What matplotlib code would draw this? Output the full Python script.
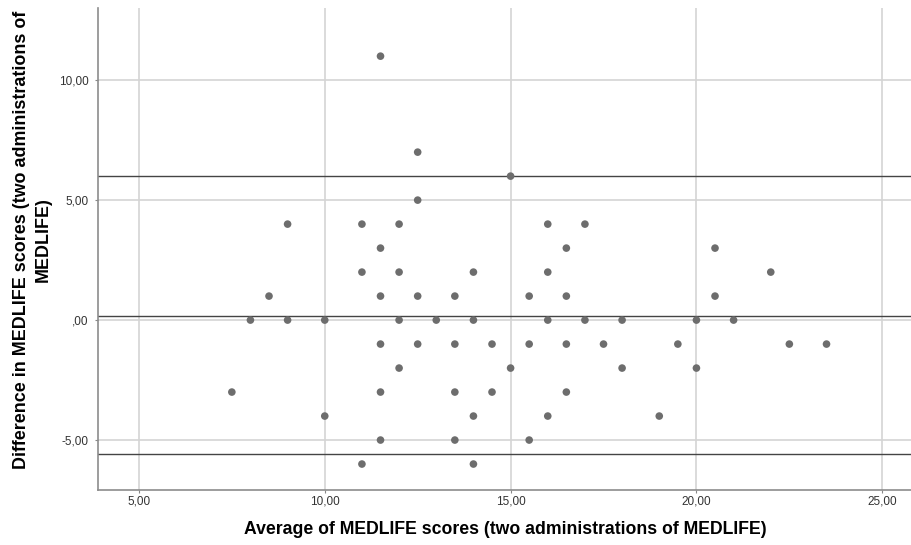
import matplotlib
matplotlib.use("Agg")
import matplotlib.pyplot as plt

# Bland-Altman: average vs difference of two MEDLIFE administrations
avg = [7.5, 8, 8.5, 9, 9, 10, 10, 11, 11, 11,
       11.5, 11.5, 11.5, 11.5, 11.5, 11.5, 12, 12, 12, 12,
       12.5, 12.5, 12.5, 12.5, 13, 13.5, 13.5, 13.5, 13.5, 14,
       14, 14, 14, 14.5, 14.5, 15, 15, 15.5, 15.5, 15.5,
       16, 16, 16, 16, 16.5, 16.5, 16.5, 16.5, 17, 17,
       17.5, 18, 18, 19, 19.5, 20, 20, 20.5, 20.5, 21,
       22, 22.5, 23.5]
diff = [-3, 0, 1, 4, 0, 0, -4, 4, 2, -6,
        11, 3, 1, -1, -3, -5, 4, 2, 0, -2,
        7, 5, 1, -1, 0, 1, -1, -3, -5, 2,
        0, -4, -6, -1, -3, 6, -2, 1, -1, -5,
        4, 2, 0, -4, 3, 1, -1, -3, 4, 0,
        -1, 0, -2, -4, -1, 0, -2, 3, 1, 0,
        2, -1, -1]

mean_diff = 0.17
upper_loa = 6.0
lower_loa = -5.58

xticks = [5, 10, 15, 20, 25]
yticks = [-5, 0, 5, 10]


def fmt(v):
    s = "%.2f" % v
    s = s.replace(".", ",")
    if s.startswith("0,"):
        s = s[1:]
    return s


plt.rcParams["font.family"] = ["Liberation Sans", "DejaVu Sans"]

fig = plt.figure(figsize=(9.12, 5.45), dpi=100)
ax = fig.add_axes([0.1075, 0.101, 0.8925, 0.884])

ax.set_xlim(3.9, 25.8)
ax.set_ylim(-7.08, 13.0)

ax.set_xticks(xticks)
ax.set_yticks(yticks)
ax.set_xticklabels([fmt(v) for v in xticks], fontsize=8.5, color="#333333")
ax.set_yticklabels([fmt(v) for v in yticks], fontsize=8.5, color="#333333")
ax.tick_params(axis="x", length=2, color="#888888", pad=2)
ax.tick_params(axis="y", length=2, color="#888888", pad=5)

ax.grid(True, color="#d4d4d4", linewidth=1.2)
ax.set_axisbelow(True)

for sp in ["top", "right"]:
    ax.spines[sp].set_visible(False)
for sp in ["left", "bottom"]:
    ax.spines[sp].set_color("#8c8c8c")
    ax.spines[sp].set_linewidth(1.2)

for yv in [upper_loa, mean_diff, lower_loa]:
    ax.axhline(yv, color="#444444", linewidth=1.0, zorder=2)

ax.scatter(avg, diff, s=30, color="#6d6d6d", edgecolors="none", zorder=3)

ax.set_xlabel("Average of MEDLIFE scores (two administrations of MEDLIFE)",
              fontsize=12.7, fontweight="bold", labelpad=10)
ax.set_ylabel("Difference in MEDLIFE scores (two administrations of\nMEDLIFE)",
              fontsize=12.9, fontweight="bold", linespacing=1.35)
ax.yaxis.set_label_coords(-0.057, 0.52)

fig.savefig("out.png", dpi=100)
